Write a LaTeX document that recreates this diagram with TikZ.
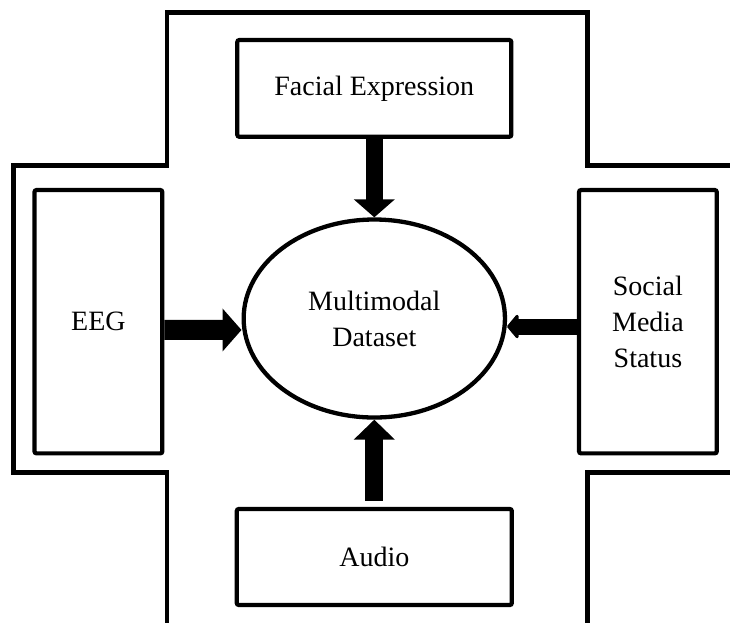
\documentclass[tikz,border=0pt]{standalone}
\usepackage{fontspec}
\setmainfont{Liberation Serif}
\usetikzlibrary{arrows.meta,shapes.geometric}

% one drawing unit
\newdimen\pxu \pxu=0.75pt
\newcommand\labelfont{\fontsize{21}{27}\selectfont}

\begin{document}
\begin{tikzpicture}[x=0.75pt,y=-0.75pt,
  frame/.style={line width=4.7\pxu, line join=miter},
  srcbox/.style={draw, line width=4.2\pxu, rounded corners=1.5pt, inner sep=0pt,
                 align=center, font=\labelfont},
  hub/.style={draw, ellipse, line width=4.3\pxu, inner sep=0pt,
              align=center, font=\labelfont}]

\useasboundingbox (0,0) rectangle (730,622);

% cross-shaped outline
\draw[frame] (167,632) -- (167,472.7) -- (13.3,472.7) -- (13.3,165.7) -- (167,165.7)
  -- (167,12.3) -- (587.7,12.3) -- (587.7,165.7) -- (740,165.7);
\draw[frame] (740,472.7) -- (587.7,472.7) -- (587.7,632);

% data sources
\node[srcbox, minimum width=274\pxu, minimum height=96.7\pxu] (face) at (374.3,88.4) {Facial Expression};
\node[srcbox, minimum width=127.8\pxu, minimum height=263.3\pxu] (eeg) at (98.4,321.7) {EEG};
\node[srcbox, minimum width=137.7\pxu, minimum height=263.3\pxu] (sms) at (647.9,321.7) {Social\\Media\\Status};
\node[srcbox, minimum width=275\pxu, minimum height=96\pxu] (audio) at (374.3,557) {Audio};

% central dataset
\node[hub, minimum width=261.3\pxu, minimum height=198\pxu] (ds) at (374.3,318.5) {Multimodal\\Dataset};

% inputs into the dataset
\draw[line width=17\pxu, -{Triangle[width=30pt,length=13.5pt]}] (face.south) -- (ds.north);
\draw[line width=18\pxu, -{Triangle[width=30pt,length=15pt]}] ([yshift=4.5pt]audio.north) -- (ds.south);
\draw[line width=20\pxu, -{Triangle[width=31.5pt,length=14.25pt]}] ([yshift=-6.2pt]eeg.east) -- ([yshift=-8.6pt]ds.west);
\draw[line width=16\pxu, -{Triangle[width=21pt,length=9pt,round]}] ([yshift=-3.6pt]sms.west) -- ([yshift=-6pt]ds.east);

\end{tikzpicture}
\end{document}
